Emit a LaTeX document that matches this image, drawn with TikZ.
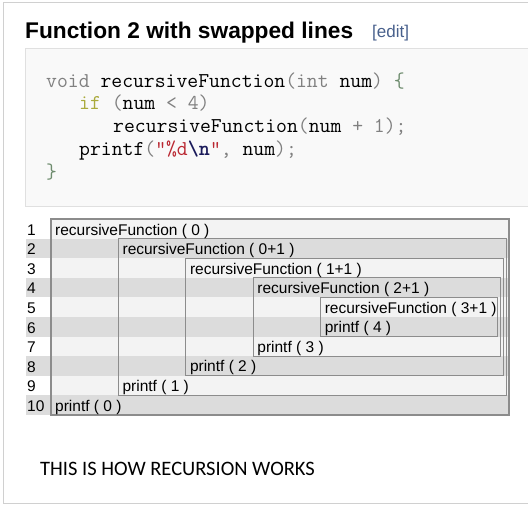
\documentclass[tikz,border=0pt]{standalone}
\usepackage{fontspec}
\setmainfont{Liberation Sans}
\newfontfamily\notefont{Carlito}
\usepackage{tikz}
\usetikzlibrary{calc}
\usepackage{color}
\definecolor{framegray}{RGB}{208, 208, 208}
\definecolor{codebg}{RGB}{249, 249, 249}
\definecolor{codeline}{RGB}{224, 224, 224}
\definecolor{editblue}{RGB}{72, 96, 140}
\definecolor{kwgray}{RGB}{128, 128, 128}
\definecolor{kwolive}{RGB}{170, 170, 60}
\definecolor{strred}{RGB}{186, 40, 50}
\definecolor{escblue}{RGB}{26, 26, 90}
\definecolor{bracegreen}{RGB}{110, 140, 110}
\definecolor{rowdark}{RGB}{220, 220, 220}
\definecolor{rowlight}{RGB}{243, 243, 243}
\definecolor{boxline}{RGB}{140, 140, 140}
\tikzset{
  codetext/.style={anchor=base west, inner sep=0pt, font=\ttfamily\fontsize{21.1}{22}\selectfont},
  celltext/.style={anchor=base west, inner sep=0pt, font=\fontsize{15.5}{16}\selectfont},
  nestbox/.style={draw=boxline, line width=1.1pt}
}
\newcommand{\kw}[1]{\textcolor{kwgray}{#1}}
\begin{document}
\begin{tikzpicture}[x=1pt, y=-1pt]
            % Frame to ensure alignment:
            \useasboundingbox                                          (  0,   0) rectangle (528, 504);
            \draw[color=framegray, line width=1pt]                     (  3,   2) rectangle (540, 503);
            % Heading and code block
            \node[anchor=base west, inner sep=0pt, font=\bfseries\fontsize{22.7}{24}\selectfont] (title) at ( 25,  38) {Function 2 with swapped lines};
            \node[anchor=base west, inner sep=0pt, font=\fontsize{17}{18}\selectfont, color=editblue] (edit) at (372,  37) {[edit]};
            \filldraw[color=codeline, fill=codebg, line width=1pt]     ( 25,  48) rectangle (540, 206);
            \node[codetext] (code1) at ( 46,  87) {\kw{void} recursiveFunction\kw{(int} num\kw{)} \textcolor{bracegreen}{\{}};
            \node[codetext] (code2) at ( 79, 109) {\textcolor{kwolive}{if} \kw{(}num \kw{< 4)}};
            \node[codetext] (code3) at (113, 132) {recursiveFunction\kw{(}num \kw{+ 1);}};
            \node[codetext] (code4) at ( 79, 155) {printf\kw{(}\textcolor{strred}{"\%d}\textcolor{escblue}{\bfseries\textbackslash n}\textcolor{strred}{"}\kw{,} num\kw{);}};
            \node[codetext] (code5) at ( 46, 178) {\textcolor{bracegreen}{\}}};
            % Row stripes and line numbers
            \foreach \i in {1,...,10} {
                \pgfmathsetmacro{\top}{219 + 19.6*(\i-1)}
                \ifodd\i
                    \fill[rowlight] ( 51, \top) rectangle (509, \top+19.6);
                \else
                    \fill[rowdark]  ( 26, \top) rectangle (509, \top+19.6);
                \fi
                \node[celltext] (num\i) at ( 27, \top+16) {\i};
            }
            % Nested call boxes
            \foreach \k in {0,...,4} {
                \draw[nestbox] (51+67.4*\k, 219+19.6*\k) rectangle (509-2.8*\k, 415-19.6*\k);
            }
            % Calls and prints
            \foreach \k/\arg in {0/0, 1/0+1, 2/1+1, 3/2+1, 4/3+1} {
                \node[celltext] (call\k)  at (55+67.4*\k, 235+19.6*\k) {recursiveFunction ( \arg\ )};
            }
            \foreach \k/\val in {0/0, 1/1, 2/2, 3/3, 4/4} {
                \node[celltext] (print\k) at (55+67.4*\k, 411-19.6*\k) {printf ( \val\ )};
            }
            \node[anchor=base west, inner sep=0pt, font=\notefont\fontsize{20.5}{22}\selectfont] (note) at ( 40, 475) {THIS IS HOW RECURSION WORKS};
        \end{tikzpicture}
\end{document}
